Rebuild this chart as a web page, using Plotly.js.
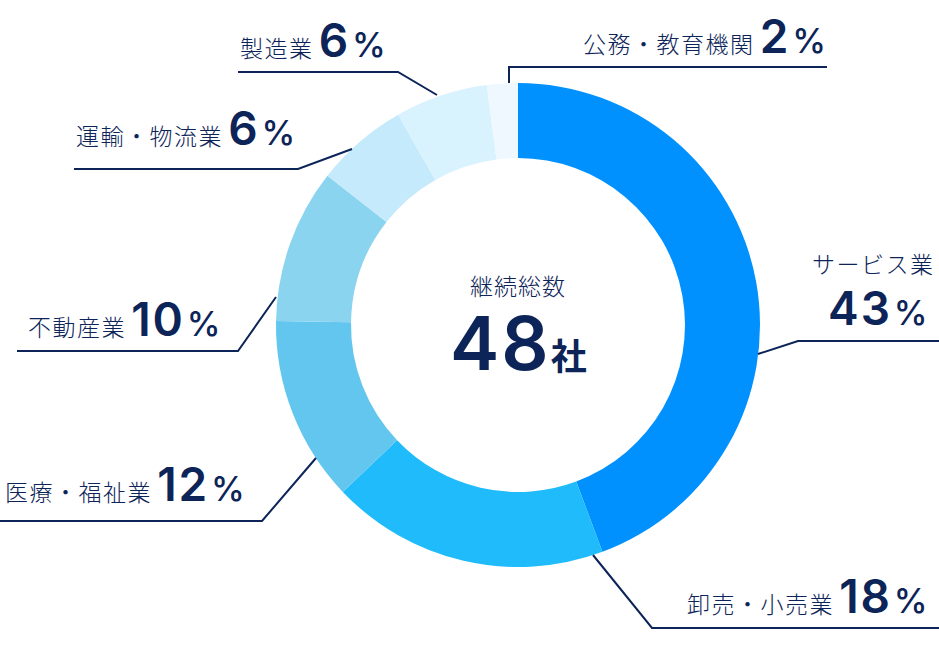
<!DOCTYPE html>
<html>
<head>
<meta charset="utf-8">
<script src="https://cdn.plot.ly/plotly-3.0.1.min.js"></script>
<style>
  html, body { margin: 0; padding: 0; background: #fff; }
  #chart { width: 939px; height: 647px; }
</style>
</head>
<body>
<div id="chart"></div>
<script>
// 業種別の内訳（12時から時計回り）
const categories = ['サービス業', '卸売・小売業', '医療・福祉業', '不動産業', '運輸・物流業', '製造業', '公務・教育機関'];
const percents = [43, 18, 12, 10, 6, 6, 2];
const sliceColors = ['#0091ff', '#1fbbfb', '#62c6ef', '#8ad4f0', '#c5eafb', '#d8f2fe', '#eef8fe'];
const centerTitle = '継続総数';
const totalCount = '48';
const totalUnit = '社';

const W = 939, H = 647;
const NAVY = '#0c2458';
const px = x => x / W;
const py = y => 1 - y / H;

const numFont = 'Inter, Roboto, sans-serif';
const jpFont = '"Noto Sans CJK JP", "Noto Sans", sans-serif';

// ラベル本文（業種名 + 大きい数字 + ％）
const labelText = (i, withName) => {
  const name = withName ? `<span style="letter-spacing:1.5px;font-weight:300">${categories[i]}</span> ` : '';
  return name +
    `<span style="font-family:${numFont};font-size:46px;font-weight:600;letter-spacing:2px">${percents[i]}</span>` +
    `<span style="font-size:8px"> </span>` +
    `<span style="font-family:${numFont};font-size:34px;font-weight:500">%</span>`;
};

// 引き出し線とラベルの配置（ピクセル）
const leaders = [
  { pts: [[758, 354], [798, 341], [939, 341]] },
  { pts: [[593, 555], [652, 628], [939, 628]] },
  { pts: [[316, 458], [262, 521], [0, 521]] },
  { pts: [[276, 297], [238, 351], [17, 351]] },
  { pts: [[352, 149], [298, 169], [74, 169]] },
  { pts: [[437, 95], [398, 72], [238, 72]] },
  { pts: [[509, 83], [509, 67], [827, 67]] }
];

const labelPos = [
  { x: 929, y: 308, anchor: 'right', name: false },
  { x: 930, y: 596, anchor: 'right', name: true },
  { x: 3, y: 484, anchor: 'left', name: true },
  { x: 26, y: 319, anchor: 'left', name: true },
  { x: 74, y: 128, anchor: 'left', name: true },
  { x: 238, y: 40, anchor: 'left', name: true },
  { x: 828, y: 36, anchor: 'right', name: true }
];

const shapes = leaders.map(l => ({
  type: 'path', xref: 'paper', yref: 'paper',
  path: 'M ' + l.pts.map(p => px(p[0]) + ',' + py(p[1])).join(' L '),
  line: { color: NAVY, width: 2 }
}));

const annotations = labelPos.map((p, i) => ({
  xref: 'paper', yref: 'paper', x: px(p.x), y: py(p.y),
  xanchor: p.anchor, yanchor: 'middle', showarrow: false,
  text: labelText(i, p.name),
  font: { family: jpFont, size: 23, color: NAVY }
}));

// サービス業は名前が数字の上に来る
annotations.push({
  xref: 'paper', yref: 'paper', x: px(937), y: py(263),
  xanchor: 'right', yanchor: 'middle', showarrow: false,
  text: `<span style="letter-spacing:1.5px;font-weight:300">${categories[0]}</span>`,
  font: { family: jpFont, size: 23, color: NAVY }
});

// 中央テキスト
annotations.push({
  xref: 'paper', yref: 'paper', x: px(518), y: py(285),
  xanchor: 'center', yanchor: 'middle', showarrow: false,
  text: `<span style="letter-spacing:1px;font-weight:300">${centerTitle}</span>`,
  font: { family: jpFont, size: 23, color: NAVY }
});
annotations.push({
  xref: 'paper', yref: 'paper', x: px(518), y: py(343),
  xanchor: 'center', yanchor: 'middle', showarrow: false,
  text: `<span style="font-family:${numFont};font-size:74px;font-weight:600;letter-spacing:2px">${totalCount}</span>` +
        `<span style="font-size:36px;font-weight:700">${totalUnit}</span>`,
  font: { family: jpFont, size: 36, color: NAVY }
});

const data = [{
  type: 'pie',
  values: percents,
  labels: categories,
  marker: { colors: sliceColors, line: { width: 0 } },
  hole: 0.69,
  sort: false,
  direction: 'clockwise',
  rotation: 0,
  textinfo: 'none',
  hoverinfo: 'none',
  domain: { x: [px(276), px(760)], y: [py(567), py(83)] }
}];

const layout = {
  width: W, height: H,
  margin: { l: 0, r: 0, t: 0, b: 0 },
  paper_bgcolor: '#ffffff',
  showlegend: false,
  shapes: shapes,
  annotations: annotations
};

Plotly.newPlot('chart', data, layout, { displayModeBar: false, staticPlot: true });
</script>
</body>
</html>
